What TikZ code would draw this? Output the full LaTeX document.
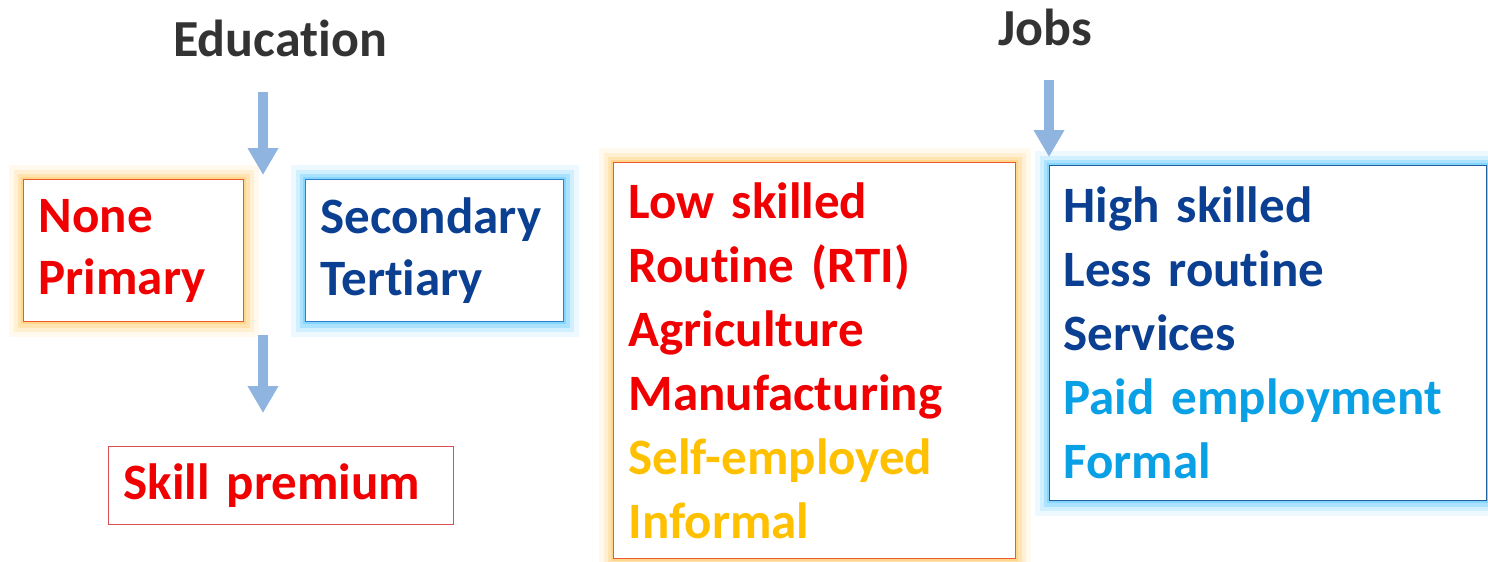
\documentclass[tikz,border=0pt]{standalone}
\usepackage{fontspec}
\setmainfont{Carlito}[Ligatures=NoCommon]
\usetikzlibrary{arrows.meta}
\definecolor{tred}{HTML}{F00000}
\definecolor{tdblue}{HTML}{0B3F91}
\definecolor{tlblue}{HTML}{0AA0E6}
\definecolor{torange}{HTML}{FFC000}
\definecolor{arrowc}{HTML}{8FB4E0}
\definecolor{titlec}{HTML}{333333}
\definecolor{warmedge}{HTML}{EC5A2C}
\definecolor{warmglow}{HTML}{FFC860}
\definecolor{cooledge}{HTML}{2F7FCC}
\definecolor{coolglow}{HTML}{55C8FF}
\definecolor{premedge}{HTML}{D95050}
\tikzset{
  title/.style={font=\fontsize{52}{60}\selectfont\bfseries, text=titlec, inner sep=0pt},
  glowbox/.style 2 args={draw=#1, line width=1.2pt, fill=white, align=left, inner ysep=0pt, inner xsep=15pt,
    preaction={draw=#2, line width=30pt, draw opacity=0.10},
    preaction={draw=#2, line width=20pt, draw opacity=0.18},
    preaction={draw=#2, line width=12pt, draw opacity=0.3},
    preaction={draw=#2, line width=5pt, draw opacity=0.45}},
  bodyfont/.style={font=\fontsize{51}{#1}\selectfont\bfseries},
  bigarrow/.style={draw=arrowc, line width=10pt, -{Triangle[width=29pt,length=27pt]}},
  plainbox/.style={draw=premedge, line width=1.2pt, inner xsep=15pt, inner ysep=0pt, align=left}
}
\begin{document}
\begin{tikzpicture}[x=1pt,y=-1pt]
\useasboundingbox[fill=white] (0,0) rectangle (1488,562);

\node[title, anchor=base] (edu) at (280,56) {Education};
\node[title, anchor=base] (jobs) at (1045,45) {Jobs};

% education boxes
\node[glowbox={warmedge}{warmglow}, bodyfont=62, anchor=north west, text width=190pt, minimum height=142pt, text=tred]
  (lowedu) at (23,179) {None\\Primary};
\node[glowbox={cooledge}{coolglow}, bodyfont=62, anchor=north west, text width=228pt, minimum height=142pt, text=tdblue]
  (highedu) at (305,179) {Secondary\\Tertiary};
\node[plainbox, bodyfont=62, anchor=north west, text width=315pt, minimum height=78pt, text=tred, yshift=-2pt]
  (prem) at (108,444) {Skill premium};

% jobs boxes
\node[glowbox={warmedge}{warmglow}, bodyfont=64, anchor=north west, text width=372pt, minimum height=396pt]
  (lowjobs) at (613,162) {\textcolor{tred}{Low skilled}\\\textcolor{tred}{Routine (RTI)}\\\textcolor{tred}{Agriculture}\\\textcolor{tred}{Manufacturing}\\\textcolor{torange}{Self-employed}\\\textcolor{torange}{Informal}};
\node[glowbox={cooledge!75!black}{coolglow}, bodyfont=64, anchor=north west, text width=409pt, minimum height=335pt, inner xsep=14pt]
  (highjobs) at (1049,165) {\textcolor{tdblue}{High skilled}\\\textcolor{tdblue}{Less routine}\\\textcolor{tdblue}{Services}\\\textcolor{tlblue}{Paid employment}\\\textcolor{tlblue}{Formal}};

% arrows
\coordinate (a1s) at (263,92);
\coordinate (a1e) at (263,175);
\coordinate (a2s) at (263,335);
\coordinate (a2e) at (263,413);
\coordinate (a3s) at (1049,80);
\coordinate (a3e) at (1049,157);
\draw[bigarrow] (a1s) -- (a1e);
\draw[bigarrow] (a2s) -- (a2e);
\draw[bigarrow] (a3s) -- (a3e);
\end{tikzpicture}
\end{document}
